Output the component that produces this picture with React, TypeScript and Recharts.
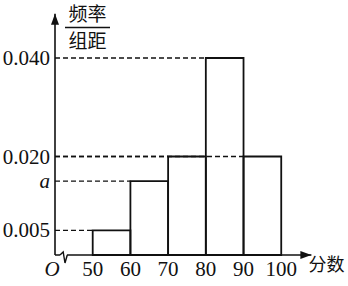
import React from 'react';
import {
  ComposedChart,
  XAxis,
  YAxis,
  ReferenceArea,
  ReferenceLine,
  ReferenceDot,
} from 'recharts';

// Score groups (lower bound of each bin) and frequency / group width
const binStarts = [50, 60, 70, 80, 90];
const binWidth = 10;
const densities = [0.005, 0.015, 0.02, 0.04, 0.02];

// Tick values and their printed labels
const xTicks = [40, 50, 60, 70, 80, 90, 100];
const xTickLabels = ['O', '50', '60', '70', '80', '90', '100'];
const yTicks = [0.005, 0.015, 0.02, 0.04];
const yTickLabels = ['0.005', 'a', '0.020', '0.040'];

const xDomain: [number, number] = [40, 108];
const yDomain: [number, number] = [0, 0.049];
const breakAt = 42.25;

const rows = binStarts.map((s, i) => ({ x: s + binWidth / 2, y: densities[i] }));

const SERIF = '"Liberation Serif", "Times New Roman", serif';
const CJK = '"Noto Sans CJK SC", sans-serif';
const INK = '#111';

const XTick = (props: any) => {
  const { x, y, payload } = props;
  const idx = xTicks.indexOf(payload.value);
  const label = xTickLabels[idx] ?? String(payload.value);
  const isOrigin = label === 'O';
  return (
    <text
      x={x + (isOrigin ? -3 : 0)}
      y={y + 21}
      textAnchor="middle"
      fontFamily={SERIF}
      fontSize={21}
      fontStyle={isOrigin ? 'italic' : 'normal'}
      fill={INK}
    >
      {label}
    </text>
  );
};

const YTick = (props: any) => {
  const { x, y, payload } = props;
  const idx = yTicks.indexOf(payload.value);
  const label = yTickLabels[idx] ?? String(payload.value);
  const italic = label === 'a';
  return (
    <text
      x={x}
      y={y + 7}
      textAnchor="end"
      fontFamily={SERIF}
      fontSize={21}
      fontStyle={italic ? 'italic' : 'normal'}
      fill={INK}
    >
      {label}
    </text>
  );
};

const YTitle = (props: any) => {
  const vb = props.viewBox || {};
  const left = (vb.x ?? 0) + (vb.width ?? 0);
  const cx = left + 32.5;
  return (
    <g>
      <text x={cx} y={21} textAnchor="middle" fontFamily={CJK} fontSize={19} fill={INK}>
        频率
      </text>
      <line x1={left + 10} x2={left + 55} y1={27.5} y2={27.5} stroke={INK} strokeWidth={1.5} />
      <text x={cx} y={48} textAnchor="middle" fontFamily={CJK} fontSize={19} fill={INK}>
        组距
      </text>
    </g>
  );
};

const XTitle = (props: any) => {
  const vb = props.viewBox || {};
  const right = (vb.x ?? 0) + (vb.width ?? 0);
  const top = vb.y ?? 0;
  return (
    <text x={right - 3} y={top + 16} textAnchor="start" fontFamily={CJK} fontSize={18} fill={INK}>
      分数
    </text>
  );
};

const UpArrow = (props: any) => {
  const { cx, cy } = props;
  return <path d={`M${cx},${cy} L${cx - 4},${cy + 11} L${cx + 4},${cy + 11} Z`} fill={INK} />;
};

const RightArrow = (props: any) => {
  const { cx, cy } = props;
  return <path d={`M${cx},${cy} L${cx - 11},${cy - 4} L${cx - 11},${cy + 4} Z`} fill={INK} />;
};

const AxisBreak = (props: any) => {
  const { cx, cy } = props;
  return (
    <g>
      <rect x={cx - 3.5} y={cy - 2} width={7} height={4} fill="#fff" />
      <path
        d={`M${cx - 3.5},${cy} L${cx - 0.3},${cy - 3} L${cx + 1.5},${cy + 8} L${cx + 3.8},${cy}`}
        fill="none"
        stroke={INK}
        strokeWidth={1.4}
        strokeLinejoin="miter"
      />
    </g>
  );
};

export default function App() {
  return (
    <div style={{ position: 'absolute', left: 0, top: 0, background: '#fff' }}>
      <ComposedChart
        width={348}
        height={286}
        data={rows}
        margin={{ top: 13.7, right: 36.6, bottom: 1, left: 0 }}
      >
        <XAxis
          dataKey="x"
          type="number"
          domain={xDomain}
          ticks={xTicks}
          interval={0}
          tickLine={false}
          tickSize={0}
          tickMargin={0}
          height={30}
          axisLine={{ stroke: INK, strokeWidth: 1.6 }}
          tick={<XTick />}
          label={<XTitle />}
          allowDecimals
        />
        <YAxis
          dataKey="y"
          type="number"
          domain={yDomain}
          ticks={yTicks}
          interval={0}
          tickLine={false}
          tickSize={0}
          tickMargin={5}
          width={55}
          axisLine={{ stroke: INK, strokeWidth: 1.6 }}
          tick={<YTick />}
          label={<YTitle />}
        />

        {/* dashed guides from the vertical axis to each bar's top-left corner */}
        {binStarts.map((s, i) => (
          <ReferenceLine
            key={`g${i}`}
            segment={[
              { x: xDomain[0], y: densities[i] },
              { x: s, y: densities[i] },
            ]}
            stroke={INK}
            strokeWidth={1.3}
            strokeDasharray="5 3"
          />
        ))}

        {/* histogram bars */}
        {binStarts.map((s, i) => (
          <ReferenceArea
            key={`b${i}`}
            x1={s}
            x2={s + binWidth}
            y1={0}
            y2={densities[i]}
            fill="none"
            stroke={INK}
            strokeWidth={1.8}
          />
        ))}

        <ReferenceDot x={breakAt} y={0} r={0} shape={<AxisBreak />} />
        <ReferenceDot x={xDomain[0]} y={yDomain[1]} r={0} shape={<UpArrow />} />
        <ReferenceDot x={xDomain[1]} y={0} r={0} shape={<RightArrow />} />
      </ComposedChart>
    </div>
  );
}
